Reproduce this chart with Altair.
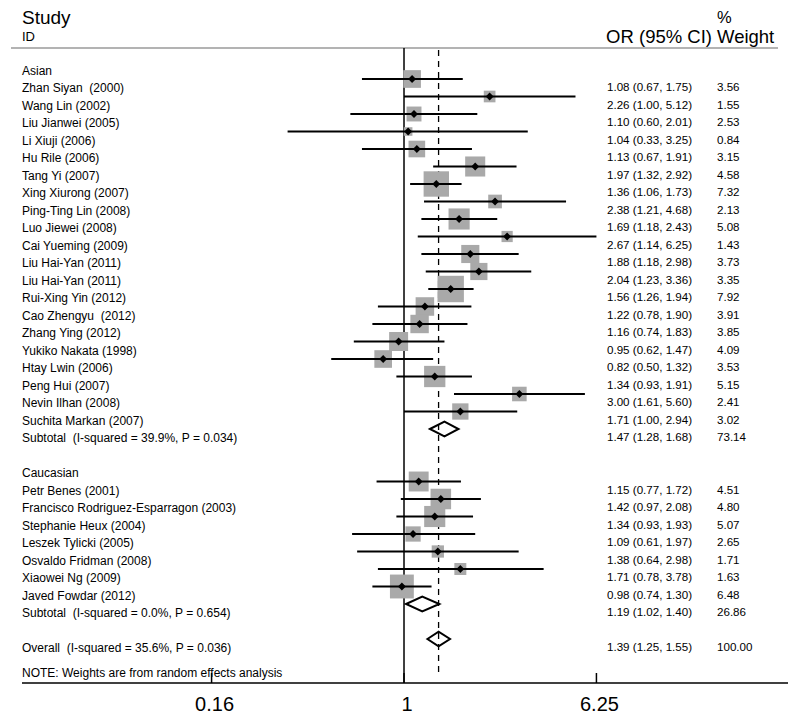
import altair as alt
import pandas as pd

# ---------------- data ----------------
asian_names = ["Zhan Siyan\u00a0 (2000)", "Wang Lin (2002)", "Liu Jianwei (2005)", "Li Xiuji (2006)",
               "Hu Rile (2006)", "Tang Yi (2007)", "Xing Xiurong (2007)", "Ping-Ting Lin (2008)",
               "Luo Jiewei (2008)", "Cai Yueming (2009)", "Liu Hai-Yan (2011)", "Liu Hai-Yan (2011)",
               "Rui-Xing Yin (2012)", "Cao Zhengyu\u00a0 (2012)", "Zhang Ying (2012)", "Yukiko Nakata (1998)",
               "Htay Lwin (2006)", "Peng Hui (2007)", "Nevin Ilhan (2008)", "Suchita Markan (2007)"]
asian_or = [1.08, 2.26, 1.10, 1.04, 1.13, 1.97, 1.36, 2.38, 1.69, 2.67,
            1.88, 2.04, 1.56, 1.22, 1.16, 0.95, 0.82, 1.34, 3.00, 1.71]
asian_lo = [0.67, 1.00, 0.60, 0.33, 0.67, 1.32, 1.06, 1.21, 1.18, 1.14,
            1.18, 1.23, 1.26, 0.78, 0.74, 0.62, 0.50, 0.93, 1.61, 1.00]
asian_hi = [1.75, 5.12, 2.01, 3.25, 1.91, 2.92, 1.73, 4.68, 2.43, 6.25,
            2.98, 3.36, 1.94, 1.90, 1.83, 1.47, 1.32, 1.91, 5.60, 2.94]
asian_wt = [3.56, 1.55, 2.53, 0.84, 3.15, 4.58, 7.32, 2.13, 5.08, 1.43,
            3.73, 3.35, 7.92, 3.91, 3.85, 4.09, 3.53, 5.15, 2.41, 3.02]

cauc_names = ["Petr Benes (2001)", "Francisco Rodriguez-Esparragon (2003)", "Stephanie Heux (2004)",
              "Leszek Tylicki (2005)", "Osvaldo Fridman (2008)", "Xiaowei Ng (2009)", "Javed Fowdar (2012)"]
cauc_or = [1.15, 1.42, 1.34, 1.09, 1.38, 1.71, 0.98]
cauc_lo = [0.77, 0.97, 0.93, 0.61, 0.64, 0.78, 0.74]
cauc_hi = [1.72, 2.08, 1.93, 1.97, 2.98, 3.78, 1.30]
cauc_wt = [4.51, 4.80, 5.07, 2.65, 1.71, 1.63, 6.48]

group_names = ["Asian", "Caucasian"]
sub_labels = ["Subtotal\u00a0 (I-squared = 39.9%, P = 0.034)",
              "Subtotal\u00a0 (I-squared = 0.0%, P = 0.654)"]
sub_or = [1.47, 1.19]
sub_lo = [1.28, 1.02]
sub_hi = [1.68, 1.40]
sub_wt = [73.14, 26.86]

overall_label = "Overall\u00a0 (I-squared = 35.6%, P = 0.036)"
overall_or = 1.39
overall_lo = 1.25
overall_hi = 1.55
overall_wt = 100.00

note_text = "NOTE: Weights are from random effects analysis"
tick_values = [0.16, 1, 6.25]
tick_labels = ["0.16", "1", "6.25"]

# ---------------- build table ----------------
rows = []
r = 0
groups = [(asian_names, asian_or, asian_lo, asian_hi, asian_wt),
          (cauc_names, cauc_or, cauc_lo, cauc_hi, cauc_wt)]
for gi, (nm, o, lo, hi, wt) in enumerate(groups):
    rows.append(dict(label=group_names[gi], row=r, kind="group"))
    r += 1
    for i in range(len(nm)):
        rows.append(dict(label=nm[i], row=r, est=o[i], lo=lo[i], hi=hi[i], w=wt[i], kind="study"))
        r += 1
    rows.append(dict(label=sub_labels[gi], row=r, est=sub_or[gi], lo=sub_lo[gi], hi=sub_hi[gi],
                     w=sub_wt[gi], kind="pooled"))
    r += 2
rows.append(dict(label=overall_label, row=r, est=overall_or, lo=overall_lo, hi=overall_hi,
                 w=overall_wt, kind="pooled"))
df = pd.DataFrame(rows)
num = df[df.kind != "group"].copy()
num["ci"] = num.apply(lambda d: f"{d.est:.2f} ({d.lo:.2f}, {d.hi:.2f})", axis=1)
num["wt"] = num.w.map(lambda v: f"{v:.2f}")
studies = df[df.kind == "study"]

# diamonds for pooled estimates
H = 0.42
dpts = []
for _, d in df[df.kind == "pooled"].iterrows():
    dpts += [dict(g=d.row, x=d.lo, y=d.row, y2=d.row),
             dict(g=d.row, x=d.est, y=d.row - H, y2=d.row + H),
             dict(g=d.row, x=d.hi, y=d.row, y2=d.row)]
ddf = pd.DataFrame(dpts)

# ---------------- scales ----------------
W, HT = 784, 708
xs = alt.Scale(type="log", domain=[0.02302, 40.25], nice=False)
ys = alt.Scale(domain=[-3.057, 37.4], reverse=True, nice=False, zero=False)
FONT = "Liberation Sans, Arial, Helvetica, sans-serif"


def X(f, **k):
    return alt.X(f, type="quantitative", scale=xs, axis=None, **k)


def Y(f):
    return alt.Y(f, type="quantitative", scale=ys, axis=None)


one = pd.DataFrame({"a": [0]})

header_line = alt.Chart(one).mark_rule(color="#9a9a9a", strokeWidth=1.5).encode(
    x=alt.value(3), x2=alt.value(770), y=alt.value(40))

ref_line = alt.Chart(pd.DataFrame({"v": [1]})).mark_rule(color="black", strokeWidth=1.5).encode(
    x=X("v"), y=alt.value(40), y2=alt.value(675))

dash_line = alt.Chart(pd.DataFrame({"v": [overall_or]})).mark_rule(
    color="black", strokeWidth=1.3, strokeDash=[6, 5]).encode(
    x=X("v"), y=alt.value(42), y2=alt.value(666))

squares = alt.Chart(studies).mark_square(color="#a9a9a9", opacity=1).encode(
    x=X("est"), y=Y("row"),
    size=alt.Size("w:Q", scale=alt.Scale(type="linear", domain=[0, 10], range=[0, 880]), legend=None))

ci = alt.Chart(studies).mark_rule(color="black", strokeWidth=2).encode(
    x=X("lo"), x2="hi", y=Y("row"))

pts = alt.Chart(studies).mark_point(shape="diamond", filled=True, color="black", size=62, opacity=1).encode(
    x=X("est"), y=Y("row"))

diamonds = alt.Chart(ddf).mark_area(orient="vertical", fill="white", fillOpacity=0,
                                    stroke="black", strokeWidth=2, interpolate="linear").encode(
    x=X("x"), y=Y("y"), y2="y2", detail="g:N")

lbl = alt.Chart(df).mark_text(align="left", baseline="middle", font=FONT, fontSize=12,
                              dy=9.5, color="black").encode(
    x=alt.value(14), y=Y("row"), text="label:N")

ci_txt = alt.Chart(num).mark_text(align="left", baseline="middle", font=FONT, fontSize=11.6,
                                  dy=9.5, color="black").encode(
    x=alt.value(599), y=Y("row"), text="ci:N")

wt_txt = alt.Chart(num).mark_text(align="left", baseline="middle", font=FONT, fontSize=11.6,
                                  dy=9.5, color="black").encode(
    x=alt.value(709), y=Y("row"), text="wt:N")


def txt(s, x, y, size, align="left"):
    return alt.Chart(pd.DataFrame({"t": [s]})).mark_text(
        align=align, baseline="middle", font=FONT, fontSize=size, color="black").encode(
        x=alt.value(x), y=alt.value(y), text="t:N")


headers = [txt("Study", 14, 10, 19), txt("ID", 14, 28.5, 13),
           txt("%", 709, 9.5, 16.5), txt("OR (95% CI)", 704, 28.5, 18.5, "right"),
           txt("Weight", 709, 28.5, 18.5), txt(note_text, 14, 665, 12)]

axis_line = alt.Chart(one).mark_rule(color="black", strokeWidth=1.7).encode(
    x=alt.value(14), x2=alt.value(780), y=alt.value(675))

tdf = pd.DataFrame({"v": tick_values, "t": tick_labels})
ticks = alt.Chart(tdf).mark_rule(color="black", strokeWidth=1.5).encode(
    x=X("v"), y=alt.value(665), y2=alt.value(675))
tick_txt = alt.Chart(tdf).mark_text(baseline="middle", align="center", dx=3,
                                    font="Liberation Sans Narrow, Arial Narrow, Liberation Sans, sans-serif",
                                    fontSize=20, color="black").encode(
    x=X("v"), y=alt.value(697), text="t:N")

chart = alt.layer(header_line, ref_line, dash_line, squares, ci, pts, diamonds,
                  lbl, ci_txt, wt_txt, *headers, axis_line, ticks, tick_txt).properties(
    width=W, height=HT, padding=0, autosize=alt.AutoSizeParams(type="none"),
    background="white").configure_view(stroke=None)

chart.save("out.html", embed_options={"renderer": "svg", "actions": False})
